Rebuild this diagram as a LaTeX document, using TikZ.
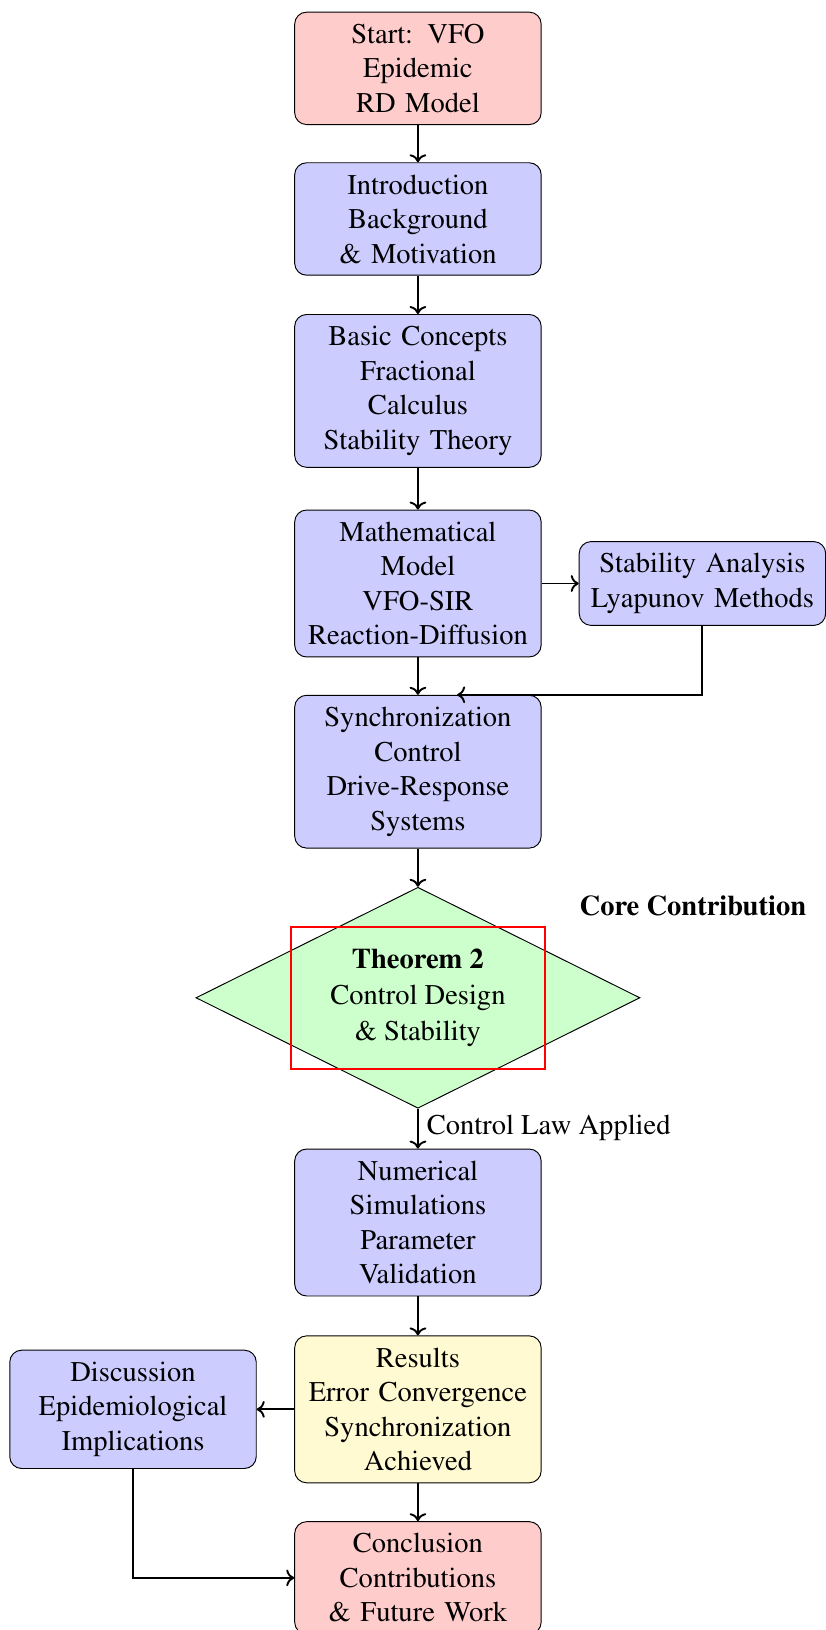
\documentclass[tikz,border=0pt]{standalone}
\usepackage[T1]{fontenc}
\usepackage{times}
\usepackage{tikz}
\usepackage{xcolor}
\usetikzlibrary{arrows.meta,positioning,shapes.geometric}
\definecolor{ink}{RGB}{0,0,0}
\definecolor{softred}{RGB}{255,204,204}
\definecolor{softblue}{RGB}{204,204,255}
\definecolor{softgreen}{RGB}{204,255,204}
\definecolor{softyellow}{RGB}{255,250,210}
\tikzset{
  arrow/.style={->,thick,draw=ink},
  note/.style={font=\fontsize{12}{14.5}\selectfont,text=ink},
  box/.style={draw=ink,rounded corners=5pt,align=center,text width=3.36cm,inner xsep=4pt,inner ysep=5pt,font=\fontsize{12}{14.5}\selectfont},
  bluebox/.style={box,fill=softblue},
  redbox/.style={box,fill=softred},
  yellowbox/.style={box,fill=softyellow},
  decision/.style={diamond,draw=ink,fill=softgreen,aspect=2,align=center,inner sep=5pt,minimum width=6.56cm,minimum height=3.26cm,font=\fontsize{12}{15.1}\selectfont},
  highlight/.style={draw=red,thick,minimum width=3.75cm,minimum height=2.10cm}
}

\begin{document}
\begin{tikzpicture}[x=1cm,y=1cm]
  \useasboundingbox (0,0) rectangle (12.2,-24.08);

  \node[redbox] (start) at (6.174,-1.01) {Start: VFO\\Epidemic\\RD Model};
  \node[bluebox] (intro) at (6.174,-3.235) {Introduction\\Background\\\& Motivation};
  \node[bluebox] (basic) at (6.174,-5.775) {Basic Concepts\\Fractional\\Calculus\\Stability Theory};
  \node[bluebox] (model) at (6.174,-8.62) {Mathematical\\Model\\VFO-SIR\\Reaction-Diffusion};
  \node[bluebox] (stab) at (10.377,-8.62) {Stability Analysis\\Lyapunov Methods};
  \node[bluebox] (sync) at (6.174,-11.40) {Synchronization\\Control\\Drive-Response\\Systems};
  \node[decision] (thm) at (6.174,-14.74) {\textbf{Theorem 2}\\Control Design\\\& Stability};
  \node[highlight] (focus) at (thm) {};
  \node[note,font=\fontsize{12}{14.5}\selectfont\bfseries] (core) at (10.236,-13.38) {Core Contribution};
  \node[bluebox] (num) at (6.174,-18.06) {Numerical\\Simulations\\Parameter\\Validation};
  \node[yellowbox] (res) at (6.174,-20.82) {Results\\Error Convergence\\Synchronization\\Achieved};
  \node[bluebox] (disc) at (1.965,-20.82) {Discussion\\Epidemiological\\Implications};
  \node[redbox] (concl) at (6.174,-23.31) {Conclusion\\Contributions\\\& Future Work};

  \draw[arrow] (start) -- (intro);
  \draw[arrow] (intro) -- (basic);
  \draw[arrow] (basic) -- (model);
  \draw[arrow] (model) -- (stab);
  \draw[arrow] (model) -- (sync);
  \draw[arrow] (stab.south) |- ([xshift=0.58cm]sync.north);
  \draw[arrow] (sync) -- (thm);
  \draw[arrow] (thm) -- node[note,right,pos=0.47] (law) {Control Law Applied} (num);
  \draw[arrow] (num) -- (res);
  \draw[arrow] (res) -- (disc);
  \draw[arrow] (res) -- (concl);
  \draw[arrow] (disc.south) |- (concl.west);
\end{tikzpicture}
\end{document}
